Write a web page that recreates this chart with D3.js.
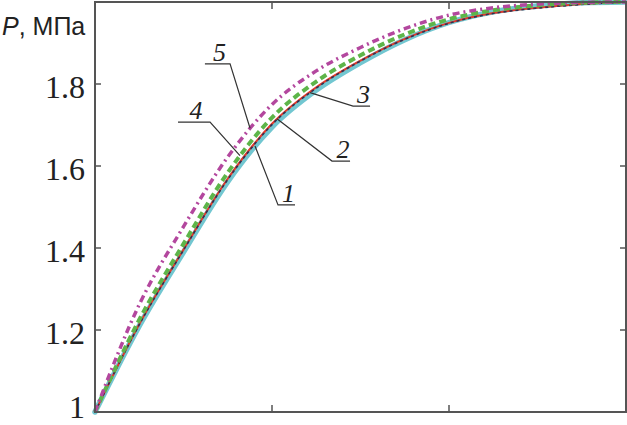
<!DOCTYPE html>
<html>
<head>
<meta charset="utf-8">
<script src="https://cdn.jsdelivr.net/npm/d3@7"></script>
<style>
  html, body { margin: 0; padding: 0; background: #fff; }
  svg { display: block; }
</style>
</head>
<body>
<svg id="chart" width="627" height="425"></svg>
<script>
// --------------------
// Data
// --------------------
const tValues = [0, 0.25, 0.5, 0.75, 1, 1.25, 1.5, 1.75, 2, 2.25, 2.5, 2.75, 3];
const p1 = [1.0, 1.21, 1.39, 1.562, 1.695, 1.785, 1.852, 1.908, 1.950, 1.976, 1.990, 1.998, 2.0];
const p2 = [1.0, 1.214, 1.396, 1.569, 1.703, 1.792, 1.857, 1.910, 1.949, 1.973, 1.986, 1.995, 2.0];
const p3 = [1.0, 1.213, 1.395, 1.567, 1.701, 1.790, 1.856, 1.909, 1.948, 1.972, 1.985, 1.994, 2.0];
const p4 = [1.0, 1.225, 1.41, 1.584, 1.718, 1.806, 1.870, 1.921, 1.958, 1.980, 1.992, 1.998, 2.0];
const p5 = [1.0, 1.262, 1.452, 1.622, 1.750, 1.832, 1.889, 1.935, 1.968, 1.986, 1.995, 1.999, 2.0];

const curveNames = ["1", "2", "3", "4", "5"];
const yTicks = [1, 1.2, 1.4, 1.6, 1.8];
const yTickLabels = ["1", "1.2", "1.4", "1.6", "1.8"];
const xTicks = [1, 2];
const yTitle = ["P", ", МПа"];

// leader lines: t where the leader meets its curve, shelf (underline) from/to t, shelf height P
const labelTarget = [0.904, 1.028, 1.215, 0.819, 0.876];
const labelShelfFrom = [1.034, 1.339, 1.458, 0.650, 0.763];
const labelShelfTo = [1.130, 1.441, 1.554, 0.469, 0.621];
const labelShelfP = [1.505, 1.612, 1.746, 1.707, 1.849];

// --------------------
// Layout
// --------------------
const svg = d3.select("#chart");
const plotLeft = 95, plotRight = 626, plotTop = 2, plotBottom = 412;

const x = d3.scaleLinear().domain([0, 3]).range([plotLeft, plotRight]);
const y = d3.scaleLinear().domain([1, 2]).range([plotBottom, plotTop]);

const series = [p1, p2, p3, p4, p5];
const styles = [
  { color: "#72c7d1", width: 5.5, dash: null },
  { color: "#e2382b", width: 2, dash: null },
  { color: "#2e3352", width: 1.6, dash: "3,3" },
  { color: "#5db549", width: 4, dash: "7,4" },
  { color: "#b3479e", width: 3.5, dash: "7,4,2,4" }
];

const line = d3.line()
  .x((d, i) => x(tValues[i]))
  .y(d => y(d))
  .curve(d3.curveMonotoneX);

// draw curves (cyan first so the rest sit on top)
const paths = series.map((vals, i) => {
  return svg.append("path")
    .datum(vals)
    .attr("d", line)
    .attr("fill", "none")
    .attr("stroke", styles[i].color)
    .attr("stroke-width", styles[i].width)
    .attr("stroke-dasharray", styles[i].dash)
    .attr("stroke-linecap", styles[i].dash ? "butt" : "round")
    .node();
});

// find the y of a drawn path at a given pixel x
function yOnPath(node, px) {
  let lo = 0, hi = node.getTotalLength();
  for (let k = 0; k < 40; k++) {
    const mid = (lo + hi) / 2;
    if (node.getPointAtLength(mid).x < px) lo = mid; else hi = mid;
  }
  return node.getPointAtLength(lo).y;
}

// --------------------
// Frame and ticks
// --------------------
svg.append("rect")
  .attr("x", plotLeft).attr("y", plotTop)
  .attr("width", plotRight - plotLeft).attr("height", plotBottom - plotTop)
  .attr("fill", "none")
  .attr("stroke", "#555")
  .attr("stroke-width", 2);

yTicks.slice(1).forEach(v => {
  svg.append("line")
    .attr("x1", plotLeft).attr("x2", plotLeft + 6)
    .attr("y1", y(v)).attr("y2", y(v))
    .attr("stroke", "#555").attr("stroke-width", 1.5);
  svg.append("line")
    .attr("x1", plotRight - 6).attr("x2", plotRight)
    .attr("y1", y(v)).attr("y2", y(v))
    .attr("stroke", "#555").attr("stroke-width", 1.5);
});

xTicks.forEach(v => {
  svg.append("line")
    .attr("x1", x(v)).attr("x2", x(v))
    .attr("y1", plotBottom).attr("y2", plotBottom - 7)
    .attr("stroke", "#555").attr("stroke-width", 1.5);
  svg.append("line")
    .attr("x1", x(v)).attr("x2", x(v))
    .attr("y1", plotTop).attr("y2", plotTop + 7)
    .attr("stroke", "#555").attr("stroke-width", 1.5);
});

svg.selectAll(".ylab")
  .data(yTicks)
  .enter()
  .append("text")
  .attr("class", "ylab")
  .attr("x", plotLeft - 10)
  .attr("y", d => Math.min(y(d) + 14, 418))
  .attr("text-anchor", "end")
  .attr("font-family", "Liberation Serif, Times New Roman, serif")
  .attr("font-size", 32)
  .attr("fill", "#222")
  .text((d, i) => yTickLabels[i]);

const title = svg.append("text")
  .attr("x", 2).attr("y", 35)
  .attr("font-family", "Liberation Sans, Arial, sans-serif")
  .attr("font-size", 25)
  .attr("fill", "#222");
title.append("tspan").attr("font-style", "italic").text(yTitle[0]);
title.append("tspan").text(yTitle[1]);

// --------------------
// Curve labels with leader lines
// --------------------
curveNames.forEach((name, i) => {
  const tx = x(labelTarget[i]);
  const ty = yOnPath(paths[i], tx);
  const sx0 = x(labelShelfFrom[i]);
  const sx1 = x(labelShelfTo[i]);
  const sy = y(labelShelfP[i]);

  svg.append("polyline")
    .attr("points", [[tx, ty], [sx0, sy], [sx1, sy]].map(p => p.join(",")).join(" "))
    .attr("fill", "none")
    .attr("stroke", "#333")
    .attr("stroke-width", 1.2);

  svg.append("text")
    .attr("x", (sx0 + sx1) / 2 + 2)
    .attr("y", sy - 3)
    .attr("text-anchor", "middle")
    .attr("font-family", "Liberation Serif, Times New Roman, serif")
    .attr("font-style", "italic")
    .attr("font-size", 26)
    .attr("fill", "#222")
    .text(name);
});
</script>
</body>
</html>
